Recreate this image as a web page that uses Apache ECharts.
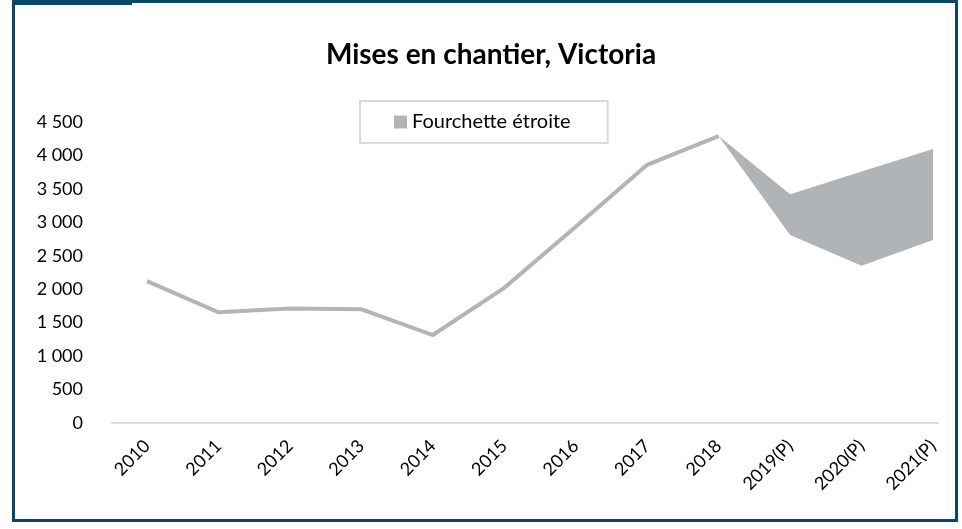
<!DOCTYPE html>
<html>
<head>
<meta charset="utf-8">
<script src="https://cdn.jsdelivr.net/npm/echarts@6/dist/echarts.min.js"></script>
<style>
  html, body { margin: 0; padding: 0; background: #fff; }
  #chart { width: 962px; height: 529px; }
</style>
</head>
<body>
<div id="chart"></div>
<script>
var categories = ['2010', '2011', '2012', '2013', '2014', '2015', '2016', '2017', '2018', '2019(P)', '2020(P)', '2021(P)']
// mises en chantier observées
var starts = [2120, 1655, 1710, 1700, 1315, 2020, 2935, 3860, 4290, null, null, null]
// fourchette étroite (bas / haut)
var rangeLow = [null, null, null, null, null, null, null, null, 4290, 2810, 2350, 2735]
var rangeHigh = [null, null, null, null, null, null, null, null, 4290, 3420, 3760, 4095]
var yTicks = { min: 0, max: 4500, interval: 500 }

var rangeWidth = rangeLow.map(function(v, i) {
  return v === null ? null : rangeHigh[i] - v
})

var chart = echarts.init(document.getElementById('chart'))
var font = 'Lato, "Open Sans", sans-serif'
var frame = '#0b4669'

chart.setOption({
  backgroundColor: '#ffffff',
  animation: false,
  title: {
    text: 'Mises en chantier, Victoria',
    left: 486,
    top: 36,
    textAlign: 'center',
    textStyle: { fontFamily: font, fontWeight: 'bold', fontSize: 28, color: '#000' }
  },
  legend: {
    data: ['Fourchette étroite'],
    left: 360,
    top: 101,
    padding: [11, 37, 11, 34],
    borderColor: '#d9d9d9',
    borderWidth: 2,
    itemWidth: 13,
    itemHeight: 13,
    icon: 'rect',
    textStyle: { fontFamily: font, fontSize: 20, color: '#000' }
  },
  graphic: [
    // cadre
    { type: 'rect', shape: { x: 13.5, y: 1.5, width: 943, height: 519 }, style: { fill: 'none', stroke: frame, lineWidth: 3 }, silent: true },
    { type: 'rect', shape: { x: 12, y: 0, width: 120, height: 5 }, style: { fill: frame }, silent: true }
  ],
  grid: [
    { left: 147, right: 29, top: 122, bottom: 106 },
    { left: 112, right: 24, top: 122, bottom: 106 }
  ],
  xAxis: [
    {
      type: 'category',
      gridIndex: 0,
      data: categories,
      boundaryGap: false,
      axisLine: { show: false },
      axisTick: { show: false },
      axisLabel: { rotate: 45, margin: 20, fontFamily: font, fontSize: 18, color: '#000' }
    },
    {
      type: 'value',
      gridIndex: 1,
      min: 0,
      max: 1,
      axisLine: { show: true, lineStyle: { color: '#d9d9d9', width: 2 } },
      axisTick: { show: false },
      axisLabel: { show: false },
      splitLine: { show: false }
    }
  ],
  yAxis: [
    {
      type: 'value',
      gridIndex: 0,
      min: yTicks.min,
      max: yTicks.max,
      interval: yTicks.interval,
      axisLine: { show: false },
      axisTick: { show: false },
      splitLine: { show: false },
      axisLabel: {
        margin: 64,
        fontFamily: font,
        fontSize: 18,
        color: '#000',
        formatter: function(v) {
          return String(v).replace(/\B(?=(\d{3})+(?!\d))/g, ' ')
        }
      }
    },
    { type: 'value', gridIndex: 1, show: false, min: 0, max: 1 }
  ],
  series: [
    {
      name: 'Mises en chantier',
      type: 'line',
      data: starts,
      showSymbol: false,
      symbol: 'none',
      lineStyle: { color: '#b2b5b7', width: 4, join: 'miter' },
      itemStyle: { color: '#b2b5b7' },
      z: 3
    },
    {
      name: 'base',
      type: 'line',
      stack: 'band',
      data: rangeLow,
      symbol: 'none',
      lineStyle: { opacity: 0 },
      areaStyle: { opacity: 0 },
      z: 2
    },
    {
      name: 'Fourchette étroite',
      type: 'line',
      stack: 'band',
      data: rangeWidth,
      symbol: 'none',
      lineStyle: { opacity: 0, width: 0 },
      itemStyle: { color: '#b1b4b7' },
      areaStyle: { color: '#b1b4b7', opacity: 1 },
      z: 2
    }
  ]
})
</script>
</body>
</html>
